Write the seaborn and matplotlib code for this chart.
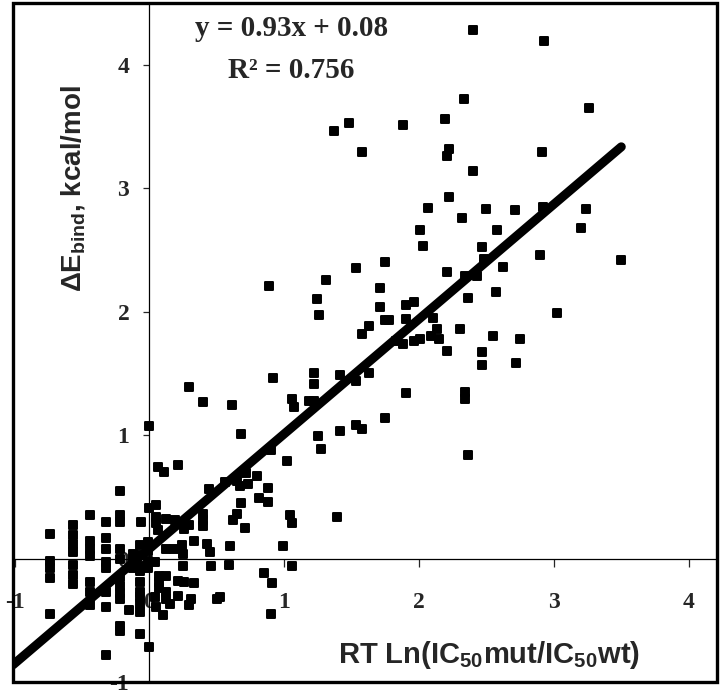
import numpy as np
import pandas as pd
import matplotlib
matplotlib.use("Agg")
import matplotlib.pyplot as plt
from matplotlib.patches import Rectangle
import seaborn as sns

rt_ln = [
    -0.74, -0.74, -0.74, -0.74, -0.74,
    -0.57, -0.57, -0.57, -0.57, -0.57, -0.57, -0.57,
    -0.44, -0.44, -0.44, -0.44, -0.44, -0.44, -0.44,
    -0.32, -0.32, -0.32, -0.32, -0.32, -0.32, -0.32, -0.32,
    -0.22, -0.22, -0.22, -0.22, -0.22, -0.22, -0.22, -0.22, -0.22, -0.22, -0.22,
    -0.15, -0.12, -0.12, -0.12,
    -0.06, -0.07, -0.07, -0.07, -0.07, -0.07, -0.07, -0.07, -0.07, -0.07, -0.07,
    0.00, 0.00, -0.01, -0.01, -0.01, -0.01, 0.00,
    0.04, 0.04, 0.05,
    0.05, 0.05, 0.05, 0.06,
    0.07, 0.07, 0.07,
    0.06, 0.11, 0.21,
    0.12, 0.12, 0.18, 0.12, 0.12, 0.12, 0.10, 0.15,
    0.19, 0.26, 0.24, 0.33, 0.25, 0.25,
    0.21, 0.26, 0.33, 0.21, 0.31, 0.29,
    0.29, 0.40, 0.40, 0.40,
    0.43, 0.45, 0.46, 0.60, 0.59,
    0.50, 0.52,
    0.44, 0.56, 0.65, 0.67, 0.73, 0.72, 0.80, 0.88,
    0.68, 0.81, 0.88, 0.65, 0.62, 0.71,
    0.99, 1.04, 1.06, 1.39, 1.06, 0.85, 0.91, 0.90,
    0.90, 1.02, 0.68, 0.29, 0.40, 0.61, 0.92, 0.89,
    1.06, 1.07, 1.18, 1.22, 1.22, 1.22, 1.24, 1.26, 1.31,
    1.25, 1.27, 1.41, 1.41, 1.53, 1.63, 1.53, 1.58,
    1.63, 1.58, 1.71, 1.71, 1.75, 1.78, 1.75, 1.53, 1.75,
    1.90, 1.96, 1.90, 1.83, 1.88, 1.96, 2.01, 2.10, 2.09, 2.13, 2.15, 2.30, 1.90,
    2.21, 2.34, 2.34, 2.36, 2.47, 2.47, 2.55, 2.72, 2.75, 3.02,
    2.36, 2.57, 2.21, 2.34, 2.43, 2.48, 2.47, 2.62, 2.90, 3.50,
    2.03, 2.01, 2.58, 3.20, 2.32, 2.07, 2.50, 2.71, 2.92, 3.24,
    2.22, 2.40, 2.22, 2.21, 2.91, 1.58, 1.37, 1.48, 1.88, 2.19, 2.33, 3.26, 2.40, 2.93,
]
de_bind = [
    0.20, -0.02, -0.08, -0.16, -0.45,
    0.27, 0.19, 0.12, 0.05, -0.05, -0.13, -0.21,
    0.35, 0.14, 0.08, 0.02, -0.19, -0.27, -0.38,
    0.30, 0.17, 0.08, -0.03, -0.08, -0.27, -0.39, -0.78,
    0.55, 0.35, 0.30, 0.08, 0.00, -0.15, -0.22, -0.28, -0.33, -0.55, -0.59,
    -0.42, 0.04, -0.03, -0.08,
    0.30, 0.11, 0.03, -0.06, -0.10, -0.19, -0.27, -0.31, -0.37, -0.43, -0.61,
    1.07, 0.41, 0.13, 0.06, -0.02, -0.08, -0.72,
    -0.03, -0.31, -0.39,
    0.43, 0.34, 0.29, 0.23,
    -0.14, -0.19, -0.24,
    0.74, 0.70, 0.76,
    0.32, 0.08, 0.08, -0.14, -0.27, -0.33, -0.46, -0.37,
    0.31, 0.24, 0.11, 0.14, 0.04, -0.06,
    -0.18, -0.19, -0.20, -0.30, -0.33, -0.38,
    0.27, 0.36, 0.31, 0.26,
    0.12, 0.05, -0.06, 0.10, -0.05,
    -0.33, -0.31,
    0.56, 0.62, 0.63, 0.59, 0.60, 0.69, 0.67, 0.57,
    0.45, 0.49, 0.46, 0.36, 0.31, 0.25,
    0.10, 0.35, 0.29, 0.34, -0.06, -0.12, -0.20, -0.45,
    0.88, 0.79, 1.01, 1.39, 1.27, 1.24, 1.46, 2.21,
    1.29, 1.23, 1.28, 1.28, 1.41, 1.50, 2.10, 1.97, 2.26,
    0.99, 0.89, 1.03, 1.49, 1.44, 1.50, 1.08, 1.05,
    1.88, 1.82, 2.19, 2.04, 1.93, 1.93, 1.14, 2.35, 2.40,
    2.05, 2.08, 1.94, 1.76, 1.74, 1.76, 1.78, 1.95, 1.80, 1.86, 1.78, 1.86, 1.34,
    1.68, 1.35, 1.29, 0.84, 1.67, 1.57, 1.80, 1.58, 1.78, 1.99,
    2.11, 2.16, 2.32, 2.29, 2.29, 2.43, 2.52, 2.36, 2.46, 2.42,
    2.53, 2.66, 2.66, 2.68, 2.76, 2.84, 2.83, 2.82, 2.85, 2.83,
    2.93, 3.14, 3.32, 3.26, 3.29, 3.29, 3.46, 3.53, 3.51, 3.56, 3.72, 3.65, 4.28, 4.19,
]

# linear fit reported on the chart
fit_slope = 0.93
fit_intercept = 0.08
fit_r2 = 0.756

x_ticks = [-1, 0, 1, 2, 3, 4]
y_ticks = [-1, 0, 1, 2, 3, 4]

df = pd.DataFrame({"rt_ln": rt_ln, "de_bind": de_bind})

sns.set_style("white")
plt.rcParams["font.family"] = ["Liberation Serif", "DejaVu Serif"]
plt.rcParams["mathtext.fontset"] = "custom"
plt.rcParams["mathtext.rm"] = "Liberation Sans:bold"
plt.rcParams["mathtext.it"] = "Liberation Sans:bold"
plt.rcParams["mathtext.bf"] = "Liberation Sans:bold"

fig = plt.figure(figsize=(7.2, 6.94), dpi=100)
ax = fig.add_axes([13 / 720, 12 / 694, 704 / 720, 679 / 694])

xlim = (-1.012, 4.21)
ylim = (-1.0, 4.5)
ax.set_xlim(*xlim)
ax.set_ylim(*ylim)

# trendline, extended back to the left edge
line_x = np.array([xlim[0], max(rt_ln)])
ax.plot(line_x, fit_slope * line_x + fit_intercept, color="black", lw=6.5,
        solid_capstyle="round", zorder=3)

sns.scatterplot(data=df, x="rt_ln", y="de_bind", ax=ax, marker="s", s=34,
                color="black", edgecolor="black", linewidth=1.4, zorder=4)

# axes crossing at the origin
ax.spines["left"].set_position(("data", 0))
ax.spines["bottom"].set_position(("data", 0))
ax.spines["top"].set_visible(False)
ax.spines["right"].set_visible(False)
for s in ["left", "bottom"]:
    ax.spines[s].set_linewidth(0.9)
    ax.spines[s].set_color("black")

ax.add_patch(Rectangle((0, 0), 1, 1, transform=ax.transAxes, fill=False,
                       lw=2.4, edgecolor="black", clip_on=False, zorder=6))

ax.set_xticks(x_ticks)
ax.set_yticks(y_ticks)
ax.set_xticklabels([str(t) for t in x_ticks])
ax.set_yticklabels([str(t) for t in y_ticks])
ax.tick_params(axis="x", direction="out", length=6, width=0.9, pad=18,
               labelsize=17, bottom=True)
ax.tick_params(axis="y", direction="out", length=4.5, width=0.9, pad=10,
               labelsize=17, left=True)
for lab in ax.get_xticklabels() + ax.get_yticklabels():
    lab.set_fontweight("bold")

ax.set_xlabel("")
ax.set_ylabel("")
ax.text(0.676, 0.04, "RT Ln(IC$_{50}$mut/IC$_{50}$wt)", transform=ax.transAxes,
        ha="center", va="center", fontsize=21, fontweight="bold",
        family="Liberation Sans")
ax.text(0.085, 0.726, "ΔE$_{bind}$, kcal/mol", transform=ax.transAxes,
        rotation=90, ha="center", va="center", fontsize=20, fontweight="bold",
        family="Liberation Sans")

ax.text(0.395, 0.963, f"y = {fit_slope:.2f}x + {fit_intercept:.2f}",
        transform=ax.transAxes, ha="center", va="center", fontsize=21,
        fontweight="bold")
ax.text(0.395, 0.900, f"R² = {fit_r2:.3f}", transform=ax.transAxes,
        ha="center", va="center", fontsize=21, fontweight="bold")

fig.savefig("out.png", dpi=100)
